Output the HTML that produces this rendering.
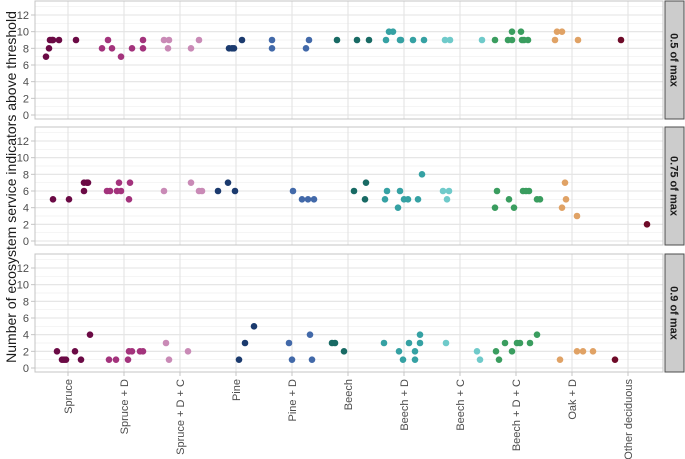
<!DOCTYPE html>
<html><head><meta charset="utf-8"><style>
html,body{margin:0;padding:0;background:#fff;}
svg{display:block;font-family:"Liberation Sans",sans-serif;}
</style></head><body>
<svg id="chart" width="685" height="459" viewBox="0 0 685 459" xmlns="http://www.w3.org/2000/svg">
<text transform="translate(16,187) rotate(-90)" text-anchor="middle" font-size="14" fill="#1a1a1a">Number of ecosystem service indicators above threshold</text>
</svg>
<script>
const categories = ["Spruce","Spruce + D","Spruce + D + C","Pine","Pine + D","Beech","Beech + D","Beech + C","Beech + D + C","Oak + D","Other deciduous"];
const colors = ["#6b0a45","#a3337c","#c98ab6","#1b3a6e","#4269a9","#186a64","#35a1a3","#6fcaca","#3a9d5f","#e0a265","#6e0a28"];
const panels = ["0.5 of max","0.75 of max","0.9 of max"];
const yTicks = [0,2,4,6,8,10,12];
// panel 1: category index, value, jitter (1/56 of category width)
const p1Cat = [0,0,0,0,0,0,0, 1,1,1,1,1,1,1, 2,2,2,2,2, 3,3,3,3, 4,4,4,4, 5,5,5, 6,6,6,6,6,6,6, 7,7,7, 8,8,8,8,8,8,8,8, 9,9,9,9, 10];
const p1Val = [7,8,9,9,9,9,9, 8,9,8,7,8,9,8, 9,9,8,8,9, 8,8,8,9, 9,8,8,9, 9,9,9, 9,10,10,9,9,9,9, 9,9,9, 9,9,9,10,10,9,9,9, 9,10,10,9, 9];
const p1Jit = [-22,-19,-18,-16,-15,-9,8, -22,-16,-12,-3,8,19,19, -16,-11,-12,11,19, -7,-4,-2,6, -20,-20,14,17, -11,9,21, -18,-15,-11,-4,-3,9,20, -15,-10,22, -21,-8,-4,-4,5,6,8,12, -17,-15,-10,6, -7];
// panel 2
const p2Cat = [0,0,0,0,0,0, 1,1,1,1,1,1,1, 2,2,2,2, 3,3,3, 4,4,4,4, 5,5,5, 6,6,6,6,6,6,6,6, 7,7,7, 8,8,8,8,8,8,8,8,8, 9,9,9,9, 10];
const p2Val = [5,5,7,7,7,6, 6,6,6,6,7,7,5, 6,7,6,6, 6,7,6, 6,5,5,5, 6,7,5, 5,6,4,6,5,5,5,8, 6,6,5, 4,6,5,4,6,6,6,5,5, 7,5,4,3, 2];
const p2Jit = [-15,1,16,19,20,16, -17,-14,-7,-3,-5,6,5, -16,11,19,22, -18,-8,-1, 1,10,16,22, 6,18,17, -19,-17,-6,-4,0,4,14,18, -17,-11,-13, -21,-19,-7,-2,7,10,13,21,24, -7,-6,-10,5, 19];
// panel 3
const p3Cat = [0,0,0,0,0,0,0, 1,1,1,1,1,1,1, 2,2,2, 3,3,3, 4,4,4,4, 5,5,5, 6,6,6,6,6,6,6,6, 7,7,7, 8,8,8,8,8,8,8,8, 9,9,9,9, 10];
const p3Val = [2,1,1,1,2,1,4, 1,1,1,2,2,2,2, 3,1,2, 1,3,5, 3,1,4,1, 3,3,2, 3,2,1,3,2,1,3,4, 3,2,1, 2,1,3,2,3,3,3,4, 1,2,2,2, 1];
const p3Jit = [-11,-6,-4,-2,7,13,22, -15,-8,4,5,8,16,19, -14,-11,8, 3,9,18, -3,0,18,20, -16,-13,-4, -20,-5,-1,5,11,11,16,16, -14,17,20, -20,-17,-11,-4,1,4,14,21, -12,5,11,21, -13];

const NS = "http://www.w3.org/2000/svg";
const svg = document.getElementById("chart");
const left = 35, right = 663, stripX = 665, stripW = 19;
const panelTops = [1,127,254], panelH = 118;
const yMin = -0.48, yMax = 13.68;
const catW = 56, cat0 = 68;
function xScale(c){ return cat0 + c*catW; }
function yScale(v, p){ return panelTops[p] + panelH - (v - yMin)/(yMax - yMin)*panelH; }
function mk(tag, attrs){ const e = document.createElementNS(NS, tag); for (const k in attrs) e.setAttribute(k, attrs[k]); svg.appendChild(e); return e; }

const data = [[p1Cat,p1Val,p1Jit],[p2Cat,p2Val,p2Jit],[p3Cat,p3Val,p3Jit]];
for (let p = 0; p < 3; p++) {
  const top = panelTops[p];
  const bg = mk("rect", {x:left, y:top, width:right-left, height:panelH, fill:"#fff"});
  
  
  for (let v = -0; v <= 13; v++) {
    const gl = mk("line", {x1:left, x2:right, y1:yScale(v,p), y2:yScale(v,p), stroke: v%2===0 ? "#e3e3e3" : "#efefef", "stroke-width": v%2===0 ? 1.1 : 0.7});
    
    
  }
  for (let c = 0; c < categories.length; c++) {
    const gl = mk("line", {x1:xScale(c), x2:xScale(c), y1:top, y2:top+panelH, stroke:"#e3e3e3", "stroke-width":1.1});
    
    
  }
  const bd = mk("rect", {x:left, y:top, width:right-left, height:panelH, fill:"none", stroke:"#c4c4c4", "stroke-width":1});
  
  
  yTicks.forEach(t => {
    const tx = mk("text", {x:29, y:yScale(t,p)+4, "text-anchor":"end", "font-size":11, fill:"#4d4d4d"});
    tx.textContent = t;
    
    
    const tk = mk("line", {x1:31, x2:35, y1:yScale(t,p), y2:yScale(t,p), stroke:"#c4c4c4"});
    
    
  });
  const [cats, vals, jits] = data[p];
  for (let i = 0; i < cats.length; i++) {
    const pt = mk("circle", {cx:xScale(cats[i] + jits[i]/catW), cy:yScale(vals[i],p), r:3.3, fill:colors[cats[i]]});
    
    
  }
  const st = mk("rect", {x:stripX, y:top, width:stripW, height:panelH, fill:"#cccccc", stroke:"#4d4d4d", "stroke-width":1});
  
  
  const sl = mk("text", {transform:`translate(${stripX+stripW/2-4},${top+panelH/2}) rotate(90)`, "text-anchor":"middle", "font-size":11, "font-weight":"bold", fill:"#1a1a1a"});
  sl.textContent = panels[p];
  
  
}
const bottom = panelTops[2] + panelH;
categories.forEach((c, i) => {
  const tk = mk("line", {x1:xScale(i), x2:xScale(i), y1:bottom, y2:bottom+4, stroke:"#c4c4c4"});
  
  
  const tx = mk("text", {transform:`translate(${xScale(i)+4},${bottom+7}) rotate(-90)`, "text-anchor":"end", "font-size":11, fill:"#4d4d4d"});
  tx.textContent = c;
  
  
});
</script>
</body></html>
